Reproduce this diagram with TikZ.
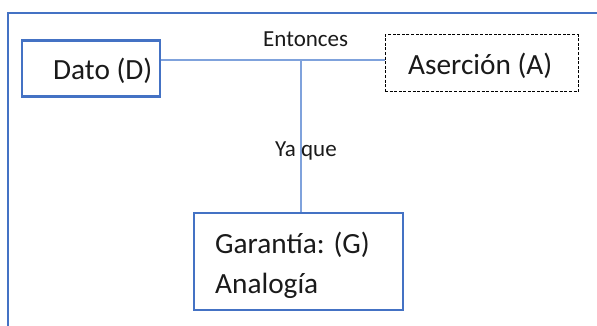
\documentclass[tikz,border=0pt]{standalone}
\usepackage{fontspec}
\setmainfont{Carlito}
\definecolor{officeblue}{HTML}{4472C4}
\definecolor{lineblue}{HTML}{7FA2DC}
\definecolor{textgray}{HTML}{1A1A1A}
\tikzset{
  bluebox/.style={draw=officeblue, line width=2.4pt, rectangle, inner sep=0pt},
  dashbox/.style={draw=black, line width=1pt, dash pattern=on 3pt off 1.6pt, rectangle, inner sep=0pt},
  boxtext/.style={font=\fontsize{29.3}{40}\selectfont, text=textgray, inner sep=0pt, anchor=base west},
  smalltext/.style={font=\fontsize{23}{28}\selectfont, text=textgray, inner sep=0pt, anchor=base west},
  conn/.style={draw=lineblue, line width=1.2pt}
}
\begin{document}
\begin{tikzpicture}[x=1pt,y=-1pt]
\useasboundingbox (0,0) rectangle (597,326);
\clip (0,0) rectangle (597,326);
% outer frame
\draw[officeblue, line width=2.2pt] (8,340) -- (8,13) -- (620,13);
% boxes
\node[bluebox, minimum width=138pt, minimum height=56pt] (dato) at (91,68.5) {};
\node[dashbox, minimum width=193pt, minimum height=57pt] (asercion) at (481.5,63.5) {};
\node[bluebox, minimum width=209pt, minimum height=97pt] (garantia) at (298.5,261.5) {};
% junction
\coordinate (j) at (301,60);
% connectors
\draw[conn] (dato.east |- j) -- (asercion.west |- j);
\draw[conn] (j) -- (j |- garantia.north);
% texts
\node[boxtext] (datotxt) at (53,80) {Dato (D)};
\node[boxtext] (asertxt) at (408,75) {Aserción (A)};
\node[boxtext] (gartxt1) at (215,253) {Garantía: (G)};
\node[boxtext] (gartxt2) at (215,293) {Analogía};
\node[smalltext] (entonces) at (263,47) {Entonces};
\node[smalltext] (yaque) at (275,157) {Ya que};
\end{tikzpicture}
\end{document}
